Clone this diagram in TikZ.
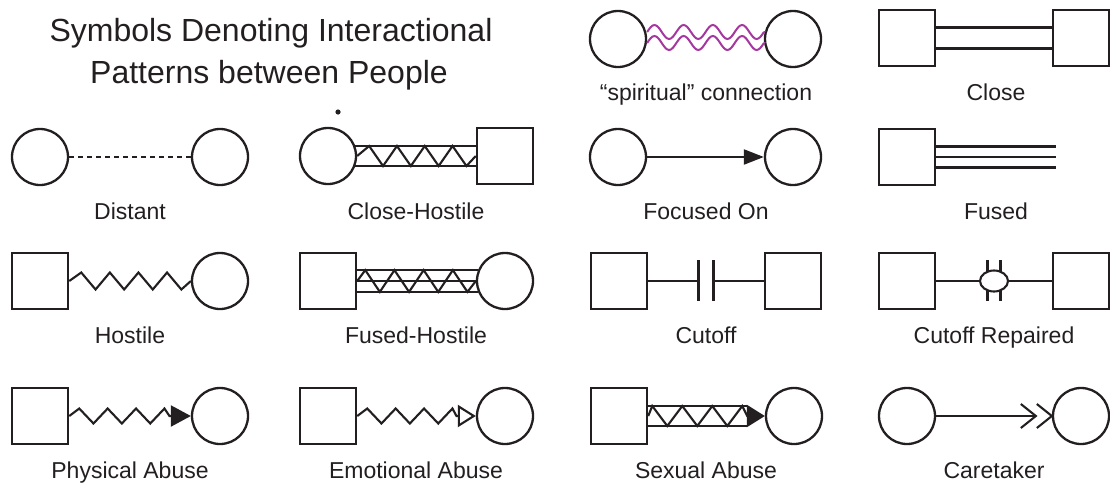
\documentclass[tikz,border=0pt]{standalone}
\usepackage{fontspec}
\setmainfont{Liberation Sans}
\usetikzlibrary{arrows.meta,shapes.geometric,calc}
\definecolor{ink}{HTML}{231F20}
\definecolor{spirit}{HTML}{A4389F}
\begin{document}
\begin{tikzpicture}[x=1pt,y=-1pt, line width=2.1pt, ink,
  sq/.style={draw, rectangle, minimum size=56pt, inner sep=0pt, line width=2.5pt},
  ci/.style={draw, circle, minimum size=56pt, inner sep=0pt, line width=2.3pt},
  lbl/.style={anchor=base, font=\fontsize{23}{27}\selectfont, text=ink, inner sep=0pt},
  ttl/.style={anchor=base, font=\fontsize{32}{38}\selectfont, text=ink, inner sep=0pt},
  wave/.style={spirit, line width=2pt},
  dashline/.style={dash pattern=on 5pt off 4pt, line width=1.7pt},
]
\useasboundingbox (0,0) rectangle (1110,485);

% title
\node[ttl] (title1) at (271,41) {Symbols Denoting Interactional};
\node[ttl] (title2) at (269,83) {Patterns between People};

% ---------- row 0 ----------
\node[ci] (sp1) at (618,39) {};
\node[ci] (sp2) at (793,39) {};
\draw[wave] ([yshift=7pt]sp1.east) foreach \k in {1,2,3,4} { sin ++(7.3,-7) cos ++(7.3,7) sin ++(7.3,7) cos ++(7.3,-7) } -- ([yshift=7pt]sp2.west);
\draw[wave] ([yshift=-4pt]sp1.east) foreach \k in {1,2,3,4} { sin ++(7.3,-7) cos ++(7.3,7) sin ++(7.3,7) cos ++(7.3,-7) } -- ([yshift=-4pt]sp2.west);
\node[lbl] (lsp) at (706,100) {“spiritual” connection};

\node[sq] (cl1) at (907,38) {};
\node[sq] (cl2) at (1081,38) {};
\draw ([yshift=10.5pt]cl1.east) -- ([yshift=10.5pt]cl2.west);
\draw ([yshift=-10.5pt]cl1.east) -- ([yshift=-10.5pt]cl2.west);
\node[lbl] (lcl) at (996,100) {Close};

% ---------- row 1 ----------
\node[ci] (d1) at (40,157) {};
\node[ci] (d2) at (220,157) {};
\draw[dashline] (d1.east) -- (d2.west);
\node[lbl] (ld) at (130,219) {Distant};

\node[ci] (ch1) at (328,156) {};
\node[sq] (ch2) at (505,156) {};
\draw (ch1.21) -- (ch1.21 -| ch2.west);
\draw (ch1.-21) -- (ch1.-21 -| ch2.west);
\draw (ch1.east) -- ++(12,-10) foreach \k in {1,2,3} { -- ++(13.9,20) -- ++(13.9,-20) } -- ++(13.9,20) -- (ch2.west);
\fill (338,112) circle (2.6pt);
\node[lbl] (lch) at (416,219) {Close-Hostile};

\node[ci] (fo1) at (618,157) {};
\node[ci] (fo2) at (793,157) {};
\draw[-{Triangle[length=20pt,width=15pt]}] (fo1.east) -- (fo2.west);
\node[lbl] (lfo) at (706,219) {Focused On};

\node[sq] (fu1) at (907,157) {};
\coordinate (fu2) at (1056,157);
\draw ([yshift=10.5pt]fu1.east) -- ([yshift=10.5pt]fu2);
\draw (fu1.east) -- (fu2);
\draw ([yshift=-10.5pt]fu1.east) -- ([yshift=-10.5pt]fu2);
\node[lbl] (lfu) at (996,219) {Fused};

% ---------- row 2 ----------
\node[sq] (h1) at (40,281) {};
\node[ci] (h2) at (220,281) {};
\draw (h1.east) -- ++(12,-8.5) foreach \k in {1,2,3} { -- ++(14.3,17) -- ++(14.3,-17) } -- ++(14.3,17) -- (h2.west);
\node[lbl] (lh) at (130,343) {Hostile};

\node[sq] (fh1) at (328,281) {};
\node[ci] (fh2) at (505,281) {};
\draw (fh2.157 -| fh1.east) -- (fh2.157);
\draw (fh1.east) -- (fh2.west);
\draw (fh2.203 -| fh1.east) -- (fh2.203);
\draw (fh1.east) -- ++(8,-10.9) foreach \k in {1,2,3} { -- ++(14.6,21.8) -- ++(14.6,-21.8) } -- ++(14.6,21.8) -- (fh2.west);
\node[lbl] (lfh) at (416,343) {Fused-Hostile};

\node[sq] (co1) at (619,281) {};
\node[sq] (co2) at (793,281) {};
\coordinate (com) at ($(co1.east)!0.5!(co2.west)$);
\draw (co1.east) -- ([xshift=-7.5pt]com);
\draw ([xshift=7.5pt]com) -- (co2.west);
\draw ([shift={(-7.5,-21)}]com) -- ([shift={(-7.5,20)}]com);
\draw ([shift={(7.5,-21)}]com) -- ([shift={(7.5,20)}]com);
\node[lbl] (lco) at (706,343) {Cutoff};

\node[sq] (cr1) at (907,281) {};
\node[sq] (cr2) at (1081,281) {};
\coordinate (crm) at ($(cr1.east)!0.5!(cr2.west)$);
\draw ([shift={(-6.5,-21)}]crm) -- ([shift={(-6.5,20)}]crm);
\draw ([shift={(6.5,-21)}]crm) -- ([shift={(6.5,20)}]crm);
\node[draw, ellipse, fill=white, minimum width=28pt, minimum height=21pt, inner sep=0pt] (cre) at (crm) {};
\draw (cr1.east) -- (cre.west);
\draw (cre.east) -- (cr2.west);
\node[lbl] (lcr) at (994,343) {Cutoff Repaired};

% ---------- row 3 ----------
\node[sq] (pa1) at (40,416) {};
\node[ci] (pa2) at (220,416) {};
\draw[-{Triangle[length=20pt,width=21pt]}] (pa1.east) -- ++(10,-7.5) foreach \k in {1,2,3} { -- ++(14.2,15) -- ++(14.2,-15) } -- ++(5,7.5) -- (pa2.west);
\node[lbl] (lpa) at (130,478) {Physical Abuse};

\node[sq] (ea1) at (328,416) {};
\node[ci] (ea2) at (505,416) {};
\draw[-{Triangle[open,length=18pt,width=22pt]}] (ea1.east) -- ++(10,-7.5) foreach \k in {1,2,3} { -- ++(14.2,15) -- ++(14.2,-15) } -- ++(4,7.5) -- (ea2.west);
\node[lbl] (lea) at (416,478) {Emotional Abuse};

\node[sq] (sa1) at (619,416) {};
\node[ci] (sa2) at (794,416) {};
\draw ([yshift=10pt]sa1.east) -- ([yshift=10pt,xshift=-18pt]sa2.west);
\draw ([yshift=-10pt]sa1.east) -- ([yshift=-10pt,xshift=-18pt]sa2.west);
\draw[-{Triangle[length=18pt,width=22pt]}] (sa1.east) -- ++(4,-10) foreach \k in {1,2,3} { -- ++(15,20) -- ++(15,-20) } -- ++(5,10) -- (sa2.west);
\node[lbl] (lsa) at (706,478) {Sexual Abuse};

\node[ci] (ct1) at (907,416) {};
\node[ci] (ct2) at (1081,416) {};
\draw (ct1.east) -- ([xshift=-16pt]ct2.west);
\draw ([shift={(-31,-12)}]ct2.west) -- ([xshift=-16pt]ct2.west) -- ([shift={(-31,12)}]ct2.west);
\draw ([shift={(-15,-12)}]ct2.west) -- (ct2.west) -- ([shift={(-15,12)}]ct2.west);
\node[lbl] (lct) at (994,478) {Caretaker};
\end{tikzpicture}
\end{document}
